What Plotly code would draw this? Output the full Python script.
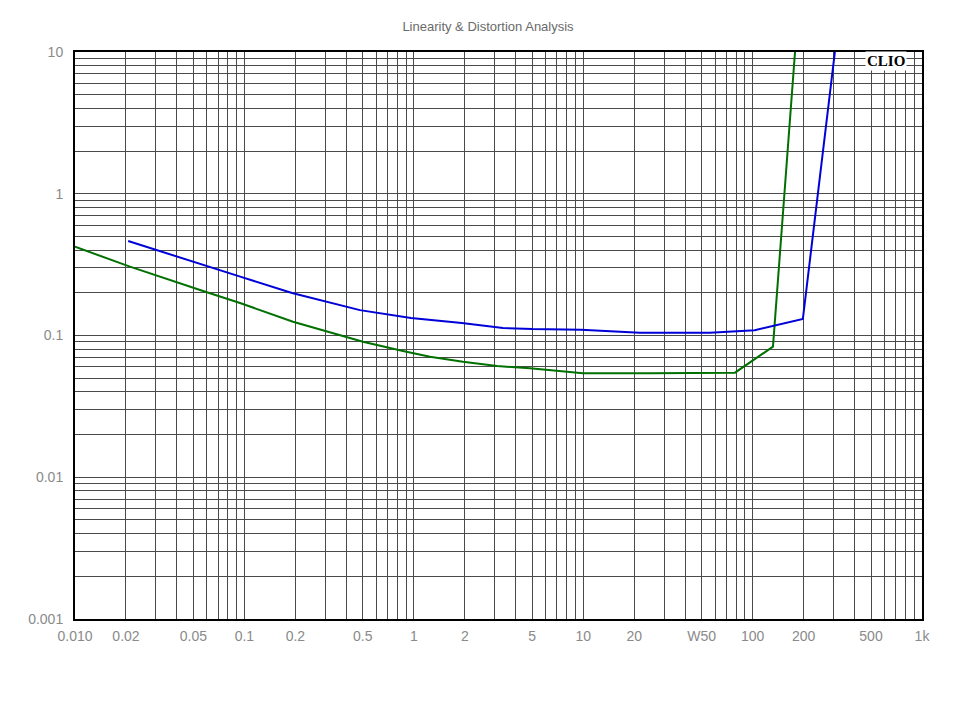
import plotly.graph_objects as go

# ---- data ----
green_x = [0.01, 0.0211, 0.057, 0.0942, 0.1936, 0.3665, 0.501, 0.863, 1.246, 1.95, 3.10, 4.85, 7.60, 9.97, 24.8, 50.0, 78.7, 131.9, 178.0]
green_y = [0.423, 0.306, 0.206, 0.1696, 0.125, 0.1008, 0.0904, 0.0778, 0.0709, 0.0653, 0.0609, 0.0587, 0.0555, 0.0541, 0.0541, 0.0543, 0.0547, 0.0834, 10.0]

blue_x = [0.0206, 0.0497, 0.0955, 0.191, 0.481, 0.962, 1.92, 3.36, 5.0, 9.7, 21.6, 56.0, 103.0, 198.0, 306.0]
blue_y = [0.464, 0.330, 0.259, 0.1995, 0.151, 0.133, 0.1225, 0.113, 0.111, 0.110, 0.1047, 0.1047, 0.109, 0.1307, 10.0]

x_tick_vals = [0.01, 0.02, 0.05, 0.1, 0.2, 0.5, 1, 2, 5, 10, 20, 50, 100, 200, 500, 1000]
x_tick_text = ["0.010", "0.02", "0.05", "0.1", "0.2", "0.5", "1", "2", "5", "10", "20", "W50", "100", "200", "500", "1k"]
y_tick_vals = [0.001, 0.01, 0.1, 1, 10]
y_tick_text = ["0.001", "0.01", "0.1", "1", "10"]

title_text = "Linearity & Distortion Analysis"
brand_text = "CLIO"

# full grid positions (1..9 per decade)
def grid_positions(lo_exp, hi_exp):
    vals = []
    for e in range(lo_exp, hi_exp):
        for m in range(1, 10):
            vals.append(m * 10.0 ** e)
    vals.append(10.0 ** hi_exp)
    return vals

def label_for(v, vals, texts):
    for tv, tt in zip(vals, texts):
        if abs(v - tv) / tv < 1e-6:
            return tt
    return ""

xg = grid_positions(-2, 3)
yg = grid_positions(-3, 1)
xg_text = [label_for(v, x_tick_vals, x_tick_text) for v in xg]
yg_text = [label_for(v, y_tick_vals, y_tick_text) for v in yg]

fig = go.Figure()
fig.add_trace(go.Scatter(x=green_x, y=green_y, mode="lines",
                         line=dict(color="#007000", width=2), showlegend=False))
fig.add_trace(go.Scatter(x=blue_x, y=blue_y, mode="lines",
                         line=dict(color="#0000d8", width=2), showlegend=False))

tick_font = dict(family="Liberation Sans, Arial, sans-serif", size=14, color="#8a8a8a")

fig.update_xaxes(type="log", range=[-2, 3], tickmode="array", tickvals=xg, ticktext=xg_text,
                 showgrid=True, gridcolor="#4a4a4a", gridwidth=1, ticks="",
                 showline=True, linecolor="black", linewidth=2, mirror=True,
                 tickfont=tick_font, zeroline=False, automargin=False, ticklabelstandoff=3)
fig.update_yaxes(type="log", range=[-3, 1], tickmode="array", tickvals=yg, ticktext=yg_text,
                 showgrid=True, gridcolor="#4a4a4a", gridwidth=1, ticks="",
                 showline=True, linecolor="black", linewidth=2, mirror=True,
                 tickfont=tick_font, zeroline=False, automargin=False, ticklabelstandoff=7)

fig.add_annotation(text="<b>" + brand_text + "</b>", xref="paper", yref="paper",
                   x=0.9575, y=0.984, xanchor="center", yanchor="middle", showarrow=False,
                   bgcolor="white",
                   font=dict(family="Liberation Serif, Times New Roman, serif", size=15, color="black"),
                   borderpad=1)

fig.update_layout(
    width=960, height=720,
    margin=dict(l=67, r=46, t=44, b=109),
    paper_bgcolor="white", plot_bgcolor="white",
    title=dict(text=title_text, x=0.5, xanchor="center", y=0.975, yanchor="middle",
               font=dict(family="Liberation Sans, Arial, sans-serif", size=13, color="#6a6a6a")),
)

fig.write_html("out.html")
